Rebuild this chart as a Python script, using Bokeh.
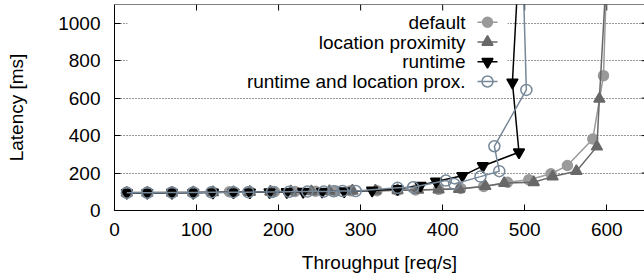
from bokeh.plotting import figure
from bokeh.models import Range1d, FixedTicker, BoxAnnotation, Span
from bokeh.core.properties import value
from bokeh.embed import file_html
from bokeh.resources import INLINE

# ---------------- data ----------------
x_ticks = [0, 100, 200, 300, 400, 500, 600]
y_ticks = [0, 200, 400, 600, 800, 1000]

series_names = ["default", "location proximity", "runtime", "runtime and location prox."]

default_x = [15, 40, 70, 96, 120, 140, 165, 195, 220, 245, 270, 288, 320, 345, 367, 395, 422, 450, 479, 505, 532, 552, 583, 596, 601]
default_y = [97, 97, 98, 98, 99, 100, 100, 101, 102, 103, 104, 105, 106, 108, 110, 113, 118, 128, 151, 164, 196, 240, 382, 720, 1400]

location_x = [15, 40, 70, 96, 120, 145, 165, 190, 215, 240, 262, 290, 318, 345, 370, 395, 420, 452, 475, 511, 534, 563, 588, 591, 600]
location_y = [94, 95, 95, 96, 97, 98, 99, 100, 101, 102, 103, 105, 106, 108, 110, 112, 115, 130, 146, 151, 181, 210, 341, 596, 1300]

runtime_x = [15, 40, 70, 96, 120, 145, 165, 189, 210, 230, 253, 280, 314, 345, 373, 392, 424, 449, 493, 485, 495]
runtime_y = [94, 94, 95, 95, 96, 97, 97, 98, 99, 100, 101, 103, 107, 115, 133, 155, 185, 238, 311, 684, 1500]

rl_x = [15, 40, 70, 96, 118, 145, 163, 192, 213, 235, 255, 267, 278, 294, 345, 364, 404, 414, 446, 469, 463, 502, 497]
rl_y = [95, 95, 96, 96, 97, 98, 98, 99, 100, 101, 101, 103, 104, 104, 121, 124, 160, 142, 181, 210, 343, 644, 1400]

x_title = "Throughput [req/s]"
y_title = "Latency [ms]"

# ---------------- layout ----------------
X_END, Y_END = 646, 1100
LEFT, TOP, FW, FH = 114, 4, 530, 206
FONT = "Liberation Sans"
FS = "19px"

# page px -> data
def dx(px):
    return (px - LEFT) * X_END / FW

def dy(py):
    return (TOP + FH - py) * Y_END / FH

p = figure(frame_width=FW, frame_height=FH,
           x_range=Range1d(0, X_END), y_range=Range1d(0, Y_END),
           output_backend="svg", toolbar_location=None,
           min_border_left=LEFT, min_border_right=0, min_border_top=TOP, min_border_bottom=66)
p.outline_line_color = None
p.background_fill_color = "white"
p.border_fill_color = "white"

for ax, ticks in ((p.xaxis[0], x_ticks), (p.yaxis[0], y_ticks)):
    ax.ticker = FixedTicker(ticks=ticks)
    ax.major_tick_in = 6
    ax.major_tick_out = 0
    ax.minor_tick_line_color = None
    ax.axis_line_color = "black"
    ax.major_tick_line_color = "black"
    ax.major_label_text_font = FONT
    ax.major_label_text_font_size = FS
    ax.major_label_text_color = "black"
    ax.axis_label_text_font = FONT
    ax.axis_label_text_font_size = FS
    ax.axis_label_text_font_style = "normal"
    ax.axis_label_text_color = "black"

p.xaxis.axis_label = x_title
p.yaxis.axis_label = y_title
p.xaxis.major_label_standoff = 12
p.xaxis.axis_label_standoff = 13
p.yaxis.major_label_standoff = 14
p.yaxis.axis_label_standoff = 28

# top border with mirrored ticks, right mirrored y ticks
p.add_layout(Span(location=Y_END, dimension="width", line_color="black", line_width=1))
tick_dy = 6 * Y_END / FH
p.segment(x0=x_ticks, y0=[Y_END] * len(x_ticks), x1=x_ticks, y1=[Y_END - tick_dy] * len(x_ticks),
          line_color="black", line_width=1)
p.segment(x0=[dx(641)] * len(y_ticks), y0=y_ticks, x1=[X_END] * len(y_ticks), y1=y_ticks,
          line_color="black", line_width=1)

p.xgrid.visible = False
p.ygrid.ticker = FixedTicker(ticks=y_ticks)
p.ygrid.grid_line_color = "black"
p.ygrid.grid_line_alpha = 0.8
p.ygrid.grid_line_dash = "1 2"
p.ygrid.grid_line_width = 1

# opaque key background hiding grid lines
key_bg = BoxAnnotation(left=dx(127), right=dx(507), top=Y_END, bottom=dy(91),
                       fill_color="white", fill_alpha=1.0, line_color=None, level="underlay")
p.add_layout(key_bg)

styles = [
    (default_x, default_y, "#9a9a9a", "circle", 10, "#9a9a9a"),
    (location_x, location_y, "#686868", "triangle", 11, "#686868"),
    (runtime_x, runtime_y, "black", "inverted_triangle", 11, "black"),
    (rl_x, rl_y, "#778899", "circle", 11, None),
]

row_y = [21.7, 41.5, 61.2, 81.0]
for (xs, ys, col, mk, sz, fill), name, ry in zip(styles, series_names, row_y):
    p.line(xs, ys, line_color=col, line_width=1.5)
    p.scatter(xs, ys, marker=mk, size=sz, fill_color=fill, line_color=col, line_width=1.5)
    # key entry
    ly = dy(ry)
    p.text(x=[dx(465)], y=[ly], text=[name], text_align="right", text_baseline="middle",
           text_font=value(FONT), text_font_size=FS, text_color="black")
    p.line([dx(477), dx(497)], [ly, ly], line_color=col, line_width=1.5)
    p.scatter([dx(487)], [ly], marker=mk, size=sz, fill_color=fill, line_color=col, line_width=1.5)

open("out.html", "w").write(file_html(p, INLINE))
